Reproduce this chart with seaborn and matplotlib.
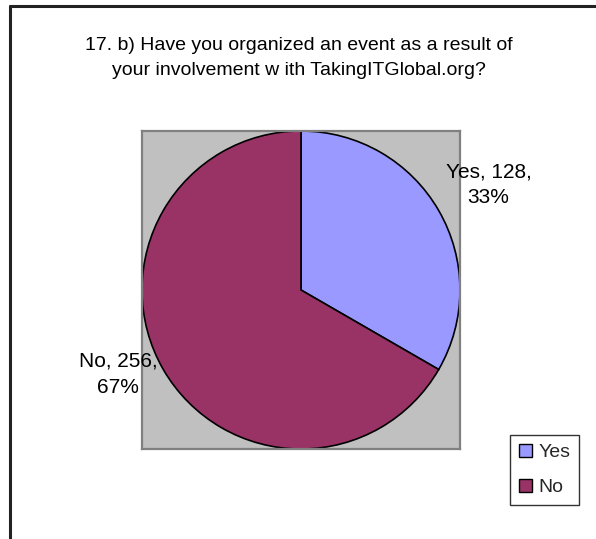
import matplotlib
matplotlib.use("Agg")
import matplotlib.pyplot as plt
import seaborn as sns
from matplotlib.patches import Patch

# Survey responses
categories = ["Yes", "No"]
counts = [128, 256]
percents = [33, 67]
title = "17. b) Have you organized an event as a result of\nyour involvement w ith TakingITGlobal.org?"

sns.set_theme(style="white")
plt.rcParams["font.family"] = ["Liberation Sans", "DejaVu Sans"]

palette = sns.color_palette(["#9999FF", "#993366"])

W, H = 596, 539
fig = plt.figure(figsize=(W / 100, H / 100), dpi=100)
fig.patch.set_facecolor("white")

# chart-area frame (left and top edges visible)
fig.add_artist(plt.Line2D([9.5 / W, 9.5 / W], [0, 1 - 6 / H], color="#222222", lw=2.2,
                          transform=fig.transFigure))
fig.add_artist(plt.Line2D([9.5 / W, 1], [1 - 6 / H, 1 - 6 / H], color="#222222", lw=2.2,
                          transform=fig.transFigure))

fig.text(299 / W, 1 - 58 / H, title, ha="center", va="center", fontsize=14,
         linespacing=1.55, color="black")

# plot area
ax = fig.add_axes([142 / W, 1 - 449 / H, 318 / W, 318 / H])
ax.set_facecolor("#C0C0C0")
for s in ax.spines.values():
    s.set_visible(True)
    s.set_color("#808080")
    s.set_linewidth(1.6)

wedges, _ = ax.pie(counts, colors=palette, startangle=90, counterclock=False,
                   radius=1.0, center=(0, 0), frame=True,
                   wedgeprops=dict(edgecolor="black", linewidth=1.2))
ax.set_xlim(-1, 1)
ax.set_ylim(-1, 1)
ax.set_xticks([])
ax.set_yticks([])
ax.set_aspect("equal")

label_pos = [(1.18, 0.66), (-1.15, -0.53)]
for cat, n, p, (x, y) in zip(categories, counts, percents, label_pos):
    ax.text(x, y, f"{cat}, {n},\n{p}%", ha="center", va="center", fontsize=15,
            linespacing=1.45, clip_on=False, color="black")

handles = [Patch(facecolor=c, edgecolor="black", linewidth=1.0) for c in palette]
leg = fig.legend(handles, categories, loc="upper left",
                 bbox_to_anchor=(510 / W, 1 - 435 / H), fontsize=14,
                 frameon=True, fancybox=False, handlelength=0.7, handleheight=0.7,
                 handletextpad=0.3, labelspacing=0.9, borderpad=0.45,
                 borderaxespad=0)
leg.get_frame().set_edgecolor("black")
leg.get_frame().set_linewidth(1.0)

fig.savefig("out.png", dpi=100)
